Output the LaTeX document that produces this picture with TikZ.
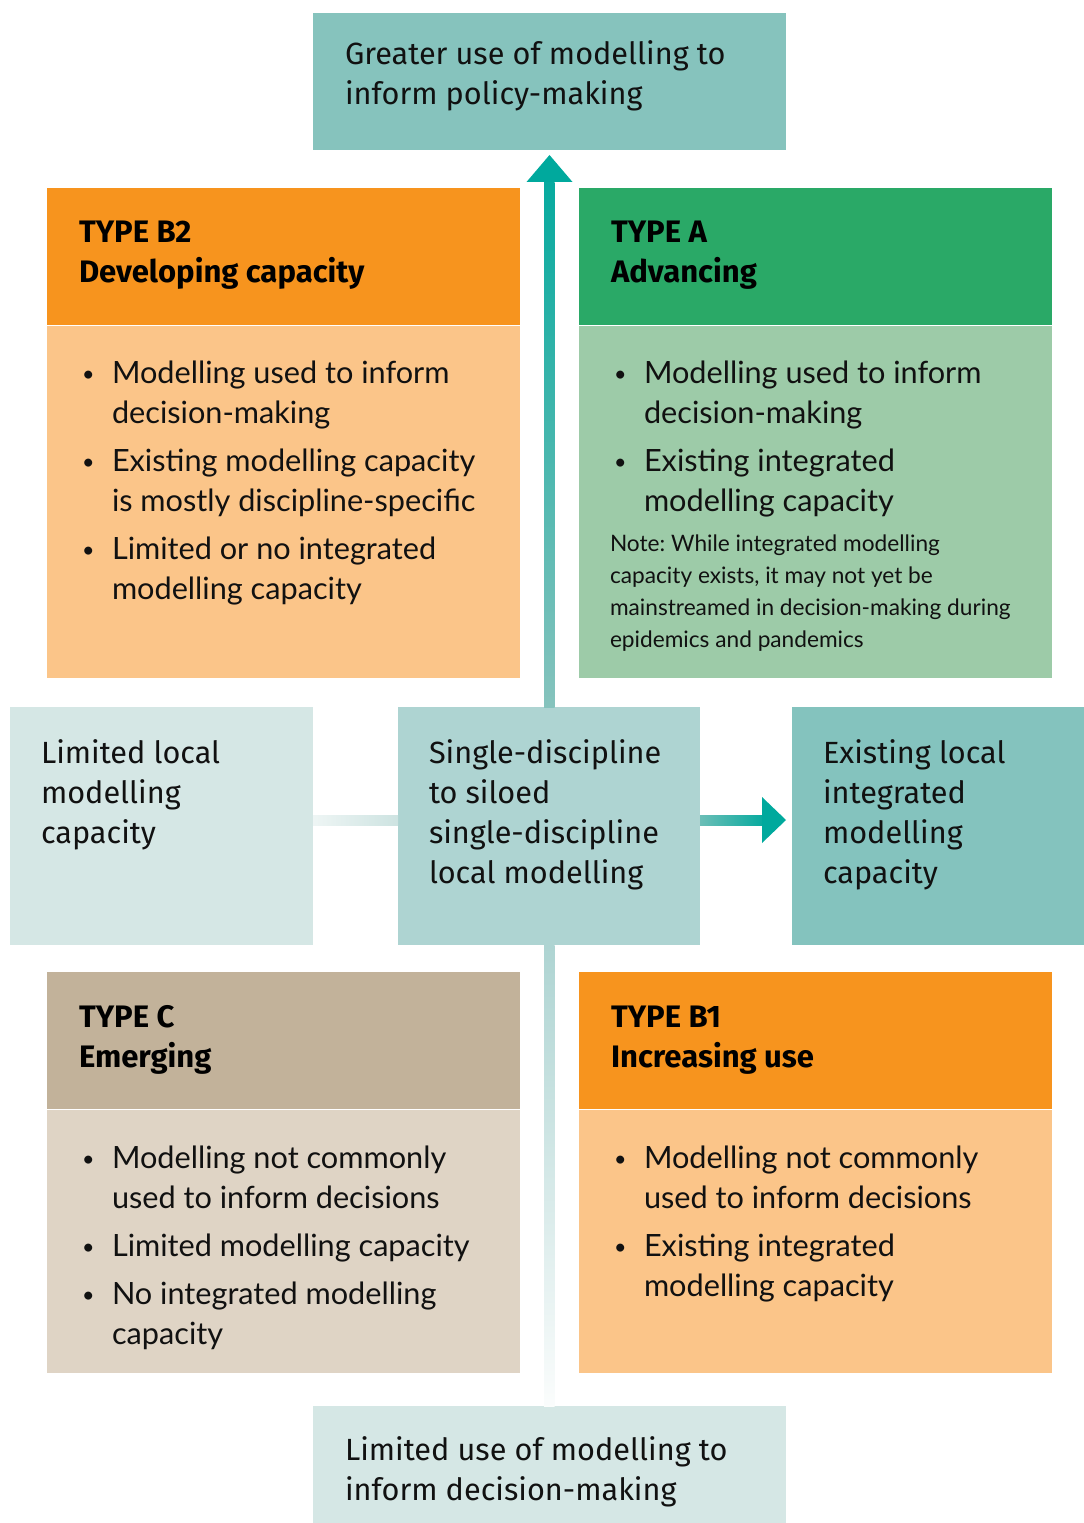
\documentclass[tikz,border=0pt]{standalone}
\usepackage{fontspec}
\setmainfont{Lato}
\newfontfamily\dinfont{Fira Sans}
\usetikzlibrary{calc}
\frenchspacing
\definecolor{tealtop}{HTML}{86C3BD}
\definecolor{tealctr}{HTML}{AED4D2}
\definecolor{teallight}{HTML}{D5E7E5}
\definecolor{tealright}{HTML}{84C3BE}
\definecolor{tealdark}{HTML}{00A99D}
\definecolor{orangeH}{HTML}{F7941E}
\definecolor{orangeL}{HTML}{FBC589}
\definecolor{greenH}{HTML}{2AA967}
\definecolor{greenL}{HTML}{9DCBA8}
\definecolor{tanH}{HTML}{C2B29A}
\definecolor{tanL}{HTML}{DFD4C5}
\definecolor{ink}{HTML}{111111}
\newlength\bulw
\setlength\bulw{21pt}
\newcommand\bitem[1]{\par\hangindent=\bulw\hangafter=1\noindent\makebox[\bulw][l]{\hspace{-1.5pt}\raisebox{1.5pt}{\scalebox{0.7}{\textbullet}}}{\let\\\newline #1}\par}
\newcommand\isep{\vspace{6pt}}
\newcommand\tbox[1]{\begin{minipage}[t]{340pt}\frenchspacing\raggedright #1\end{minipage}}
\begin{document}
\begin{tikzpicture}[x=0.75pt,y=-0.75pt,
  box/.style={rectangle,inner sep=0pt,outer sep=0pt,anchor=north west},
  bw/.style={minimum width=#1*0.75pt},
  bh/.style={minimum height=#1*0.75pt},
  txt/.style={anchor=base west,inner sep=0pt,outer sep=0pt,text=ink},
  dintxt/.style={txt,font=\dinfont\fontsize{23pt}{30pt}\selectfont},
  headtxt/.style={txt,text=black,font=\dinfont\bfseries\fontsize{23.3pt}{30pt}\selectfont},
  bodytxt/.style={txt,font=\fontsize{23pt}{30pt}\selectfont},
  notetxt/.style={txt,font=\fontsize{17pt}{24pt}\selectfont}]
\useasboundingbox (0,0) rectangle (1084,1523);
% boxes
\node[box,bw=473,bh=137,fill=tealtop] (top) at (313,13) {};
\node[box,bw=473,bh=137,fill=orangeH] (b2h) at (47,188) {};
\node[box,bw=473,bh=352,fill=orangeL] (b2b) at (47,326) {};
\node[box,bw=473,bh=137,fill=greenH] (ah) at (579,188) {};
\node[box,bw=473,bh=352,fill=greenL] (ab) at (579,326) {};
\node[box,bw=303,bh=238,fill=teallight] (left) at (10,707) {};
\node[box,bw=302,bh=238,fill=tealctr] (ctr) at (398,707) {};
\node[box,bw=292,bh=238,fill=tealright] (right) at (792,707) {};
\node[box,bw=473,bh=137,fill=tanH] (ch) at (47,972) {};
\node[box,bw=473,bh=263,fill=tanL] (cb) at (47,1110) {};
\node[box,bw=473,bh=137,fill=orangeH] (b1h) at (579,972) {};
\node[box,bw=473,bh=263,fill=orangeL] (b1b) at (579,1110) {};
\node[box,bw=473,bh=117,fill=teallight] (bot) at (313,1406) {};
% connectors
\shade[top color=tealdark!95!tealtop,bottom color=tealtop]
  ($(ctr.north)+(-5,0)$) rectangle ($(top.south)+(5,33)$);
\fill[tealdark] ($(top.south)+(-23,32)$) -- ($(top.south)+(0,5)$) -- ($(top.south)+(23,32)$) -- cycle;
\shade[top color=tealctr,bottom color=white!90!teallight]
  ($(ctr.south)+(-5,0)$) rectangle ($(bot.north)+(5,0)$);
\shade[left color=white!60!teallight,right color=teallight!80!tealctr]
  ($(left.east)+(0,-11)$) rectangle ($(ctr.west)+(0,-1)$);
\shade[left color=tealtop!80!tealdark,right color=tealdark!95!tealtop]
  ($(ctr.east)+(0,-11)$) rectangle ($(right.west)+(-29,-1)$);
\fill[tealdark] ($(right.west)+(-30,-29)$) -- ($(right.west)+(-6,-6)$) -- ($(right.west)+(-30,17)$) -- cycle;
% texts
\node[dintxt] (ttop) at (345,65) {\tbox{Greater use of modelling to\\inform policy-making}};
\node[headtxt] (tb2h) at (79,243) {\tbox{TYPE B2\\Developing capacity}};
\node[bodytxt] (tb2b) at (84,383) {\tbox{\bitem{Modelling used to inform\\decision-making}\isep
\bitem{Existing modelling capacity\\is mostly discipline-specific}\isep
\bitem{Limited or no integrated\\modelling capacity}}};
\node[headtxt] (tah) at (611,243) {\tbox{TYPE A\\Advancing}};
\node[bodytxt] (tab) at (616,383) {\tbox{\bitem{Modelling used to inform\\decision-making}\isep
\bitem{Existing integrated\\modelling capacity}}};
\node[notetxt] (tnote) at (610,551) {\tbox{Note: While integrated modelling\\capacity exists, it may not yet be\\mainstreamed in decision-making during\\epidemics and pandemics}};
\node[dintxt] (tleft) at (41,763) {\tbox{Limited local\\modelling\\capacity}};
\node[dintxt] (tctr) at (429,763) {\tbox{Single-discipline\\to siloed\\single-discipline\\local modelling}};
\node[dintxt] (tright) at (823,763) {\tbox{Existing local\\integrated\\modelling\\capacity}};
\node[headtxt] (tch) at (79,1027) {\tbox{TYPE C\\Emerging}};
\node[bodytxt] (tcb) at (84,1168) {\tbox{\bitem{Modelling not commonly\\used to inform decisions}\isep
\bitem{Limited modelling capacity}\isep
\bitem{No integrated modelling\\capacity}}};
\node[headtxt] (tb1h) at (611,1027) {\tbox{TYPE B1\\Increasing use}};
\node[bodytxt] (tb1b) at (616,1168) {\tbox{\bitem{Modelling not commonly\\used to inform decisions}\isep
\bitem{Existing integrated\\modelling capacity}}};
\node[dintxt] (tbot) at (345,1460) {\tbox{Limited use of modelling to\\inform decision-making}};
\end{tikzpicture}
\end{document}
